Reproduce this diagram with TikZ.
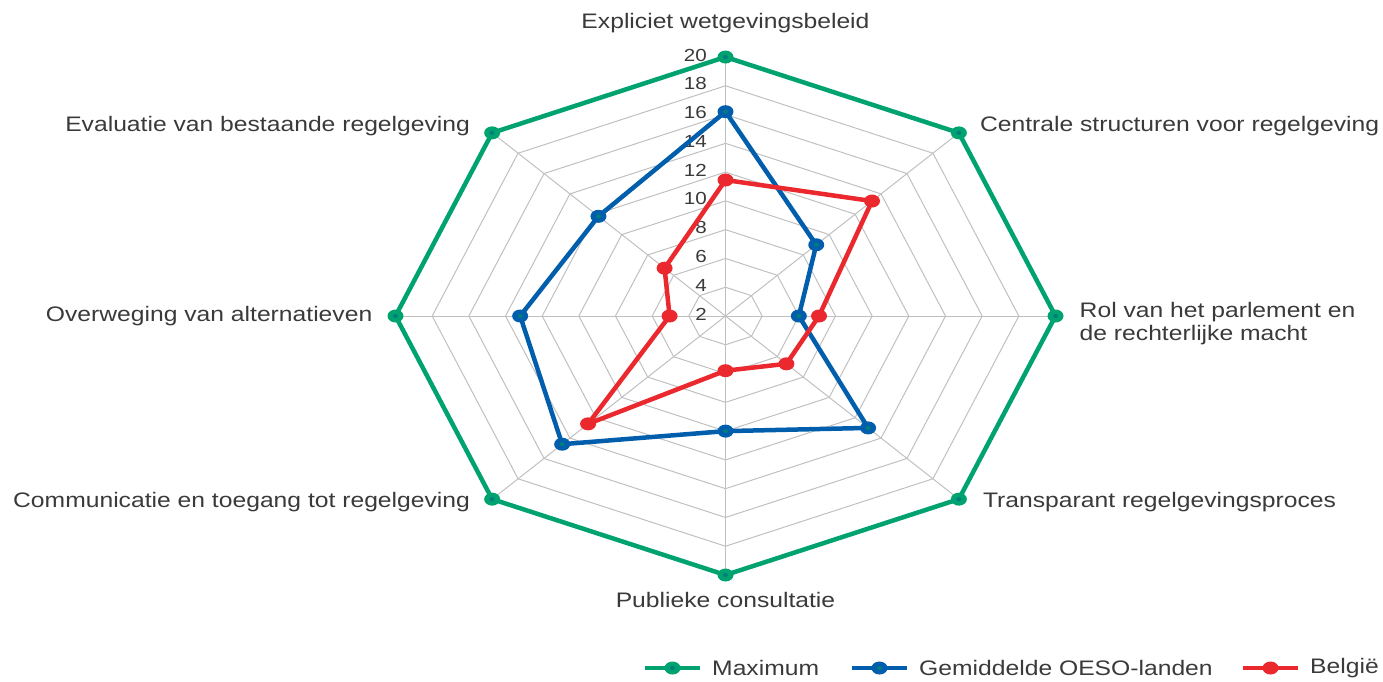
\documentclass[tikz,border=0pt]{standalone}
\usepackage{fontspec}
\setmainfont{Liberation Sans}[FakeStretch=1.175]
\usetikzlibrary{positioning}

\definecolor{maxgreen}{RGB}{0,163,112}
\definecolor{oesoblue}{RGB}{0,94,172}
\definecolor{bered}{RGB}{235,40,45}
\definecolor{gridgray}{RGB}{192,192,192}
\definecolor{labelgray}{RGB}{58,58,58}
\definecolor{markcore}{RGB}{0,125,125}

\tikzstyle{axislabel} = [text=labelgray, font=\fontsize{21}{23}\selectfont, inner sep=0pt]
\tikzstyle{ticklabel} = [text=labelgray, font=\fontsize{17.5}{19}\selectfont, inner sep=0pt, anchor=east]
\tikzstyle{gridline} = [draw=gridgray, line width=1pt]
\tikzstyle{series} = [line width=4.5pt, line join=round]

% series marker: filled ellipse, optional dark core
\newcommand{\chartmark}[2]{\fill[#2] (#1) ellipse [x radius=8pt, y radius=6.5pt];}
\newcommand{\chartcore}[1]{\fill[markcore] (#1) ellipse [x radius=2.5pt, y radius=2pt];}

\begin{document}
\begin{tikzpicture}[x=1pt, y=1pt]
  \useasboundingbox (0,0) rectangle (1383,-681);

  % Radar grid and data points (unit circle = maximum ring)
  \begin{scope}[shift={(725.5,-316)}, xscale=330, yscale=259]
    \coordinate (c) at (0,0);
    \foreach \r in {1,...,9} {
      \draw[gridline] (90:{\r/9}) \foreach \a in {135,180,...,405} { -- ({\a}:{\r/9}) } -- cycle;
    }
    \foreach \a in {0,45,...,315}
      \draw[gridline] (c) -- ({\a}:1);

    \foreach \k in {0,...,7}
      \coordinate (m\k) at ({90-45*\k}:1);
    \foreach \v [count=\k from 0] in {16.2,9,6,13,10,14.6,13.2,11.8}
      \coordinate (o\k) at ({90-45*\k}:{(\v-2)/18});
    \foreach \v [count=\k from 0] in {11.45,13.3,7.1,6.7,5.8,12.6,5.05,6.7}
      \coordinate (b\k) at ({90-45*\k}:{(\v-2)/18});
  \end{scope}

  % Scale labels
  \foreach \v in {2,4,...,20}
    \node (tick\v) [ticklabel] at (707, {-314+(\v-2)*14.39}) {\v};

  % Maximum
  \draw[series, maxgreen] (m0) -- (m1) -- (m2) -- (m3) -- (m4) -- (m5) -- (m6) -- (m7) -- cycle;
  \foreach \k in {0,...,7} { \chartmark{m\k}{maxgreen} \chartcore{m\k} }

  % Gemiddelde OESO-landen
  \draw[series, oesoblue] (o0) -- (o1) -- (o2) -- (o3) -- (o4) -- (o5) -- (o6) -- (o7) -- cycle;
  \foreach \k in {0,...,7} { \chartmark{o\k}{oesoblue} \chartcore{o\k} }

  % Belgie
  \draw[series, bered] (b0) -- (b1) -- (b2) -- (b3) -- (b4) -- (b5) -- (b6) -- (b7) -- cycle;
  \foreach \k in {0,...,7} { \chartmark{b\k}{bered} }

  % Axis labels
  \node (lab0) [axislabel, above=24pt of m0] {Expliciet wetgevingsbeleid};
  \node (lab1) [axislabel, right=21pt of m1, yshift=7pt] {Centrale structuren voor regelgeving};
  \node (lab2) [axislabel, right=24pt of m2, yshift=-8pt, align=left] {Rol van het parlement en\\de rechterlijke macht};
  \node (lab3) [axislabel, right=24pt of m3, yshift=-3pt] {Transparant regelgevingsproces};
  \node (lab4) [axislabel, below=17pt of m4] {Publieke consultatie};
  \node (lab5) [axislabel, left=22pt of m5, yshift=-3pt] {Communicatie en toegang tot regelgeving};
  \node (lab6) [axislabel, left=23pt of m6] {Overweging van alternatieven};
  \node (lab7) [axislabel, left=22pt of m7, yshift=7pt] {Evaluatie van bestaande regelgeving};

  % Legend
  \foreach \x/\col/\nm/\txt in {645/maxgreen/max/Maximum, 852/oesoblue/oeso/{Gemiddelde OESO-landen}, 1243/bered/be/België} {
    \coordinate (leg\nm a) at (\x,-668);
    \coordinate (leg\nm b) at (\x+55,-668);
    \coordinate (leg\nm m) at (\x+27.5,-668);
    \draw[series, \col] (leg\nm a) -- (leg\nm b);
    \chartmark{leg\nm m}{\col}
    \node (leg\nm) [axislabel, anchor=west, right=12pt of leg\nm b] {\txt};
  }
  \chartcore{legmaxm}
  \chartcore{legoesom}
\end{tikzpicture}
\end{document}
